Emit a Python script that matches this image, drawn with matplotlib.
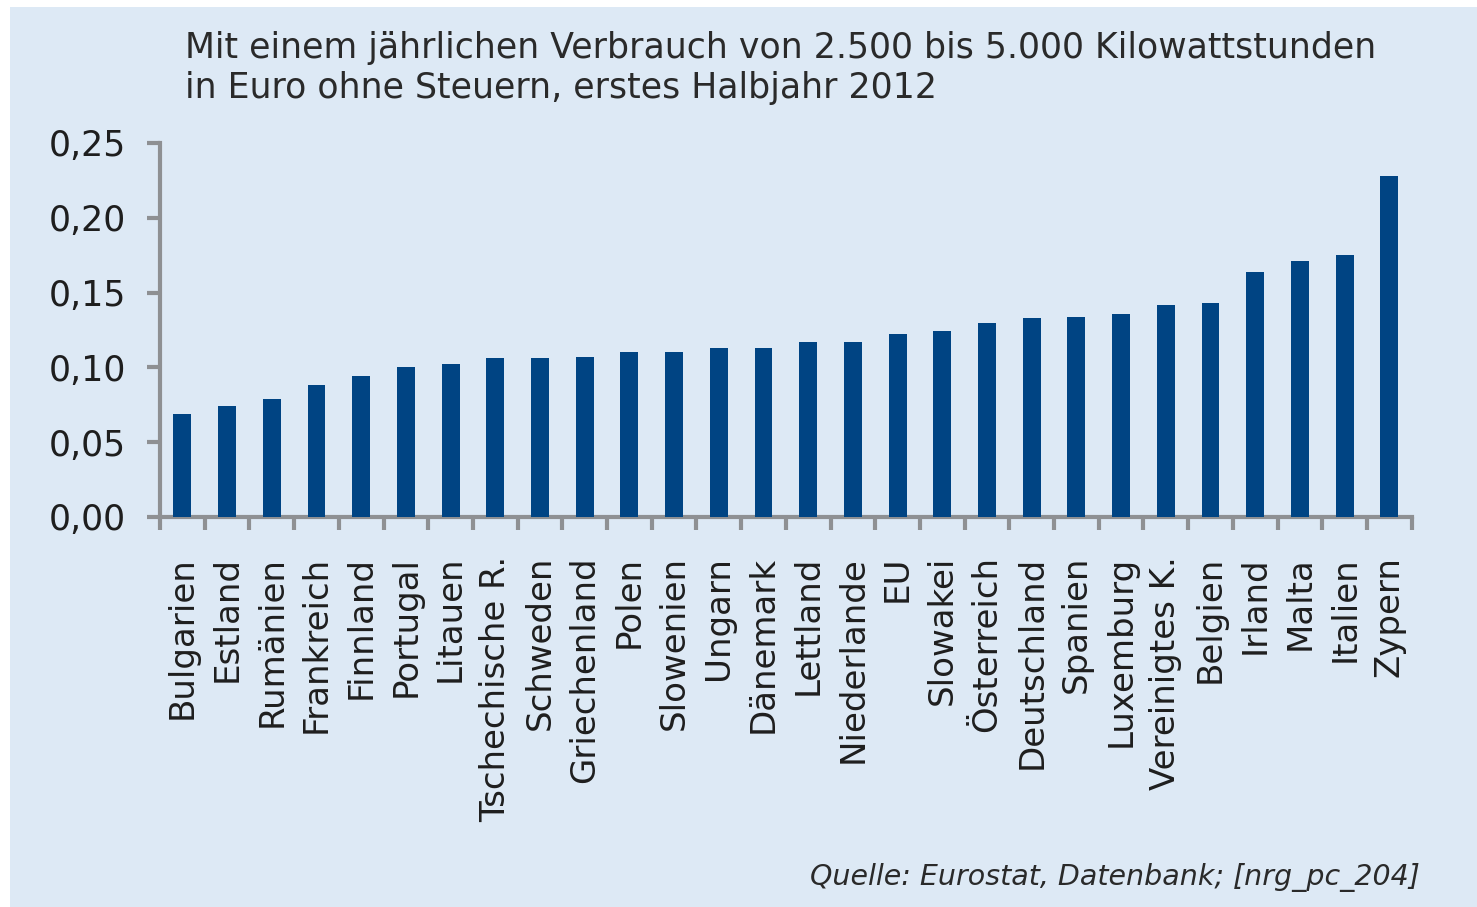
import matplotlib
matplotlib.use("Agg")
import matplotlib.pyplot as plt
from matplotlib.patches import Rectangle
from matplotlib.ticker import FuncFormatter, MultipleLocator

countries = ["Bulgarien", "Estland", "Rumänien", "Frankreich", "Finnland", "Portugal",
             "Litauen", "Tschechische R.", "Schweden", "Griechenland", "Polen", "Slowenien",
             "Ungarn", "Dänemark", "Lettland", "Niederlande", "EU", "Slowakei", "Österreich",
             "Deutschland", "Spanien", "Luxemburg", "Vereinigtes K.", "Belgien", "Irland",
             "Malta", "Italien", "Zypern"]
prices = [0.069, 0.074, 0.079, 0.088, 0.094, 0.100, 0.102, 0.106, 0.106, 0.107,
          0.110, 0.110, 0.113, 0.113, 0.117, 0.117, 0.122, 0.124, 0.130, 0.133,
          0.134, 0.136, 0.142, 0.143, 0.164, 0.171, 0.175, 0.228]

title_lines = ["Mit einem jährlichen Verbrauch von 2.500 bis 5.000 Kilowattstunden",
               "in Euro ohne Steuern, erstes Halbjahr 2012"]
source = "Quelle: Eurostat, Datenbank; [nrg_pc_204]"

BG = "#dde9f5"
BAR = "#004483"
AXC = "#8e9093"
TXT = "#1e1e1e"

W, H = 1477, 907
fig = plt.figure(figsize=(W / 100, H / 100), dpi=100)
fig.patch.set_facecolor("white")
fig.patches.append(Rectangle((10 / W, 0), 1 - 10 / W, 1 - 7 / H, transform=fig.transFigure,
                             facecolor=BG, edgecolor="none", zorder=-10))

ax = fig.add_axes([160 / W, 1 - 517 / H, (1411.7 - 160) / W, (517 - 143) / H])
ax.set_facecolor("none")

x = list(range(len(countries)))
ax.bar(x, prices, width=0.40, color=BAR, zorder=3)

ax.set_xlim(-0.5, len(countries) - 0.5)
ax.set_ylim(0, 0.25)
ax.yaxis.set_major_locator(MultipleLocator(0.05))
ax.yaxis.set_major_formatter(FuncFormatter(lambda v, p: f"{v:.2f}".replace(".", ",")))

for s in ["top", "right"]:
    ax.spines[s].set_visible(False)
for s in ["left", "bottom"]:
    ax.spines[s].set_color(AXC)
    ax.spines[s].set_linewidth(3)
    ax.spines[s].set_capstyle("projecting")

# category boundary ticks on x axis
ax.set_xticks([i - 0.5 for i in range(len(countries) + 1)])
ax.set_xticklabels([])
ax.tick_params(axis="x", which="major", length=9.5, width=3, color=AXC, direction="out")
ax.set_xticks(x, minor=True)
ax.set_xticklabels(countries, minor=True, rotation=90, ha="center", va="top",
                   fontsize=24.5, color=TXT)
ax.tick_params(axis="x", which="minor", length=0, pad=28)

ax.tick_params(axis="y", length=9.5, width=3, color=AXC, direction="out",
               labelsize=25, labelcolor=TXT, pad=15)

fig.text(185 / W, 1 - 58 / H, title_lines[0], fontsize=25, color="#2a2a2a",
         ha="left", va="baseline")
fig.text(185 / W, 1 - 98 / H, title_lines[1], fontsize=25, color="#2a2a2a",
         ha="left", va="baseline")
fig.text(1420 / W, 1 - 885 / H, source, fontsize=20.5, style="italic", color="#2a2a2a",
         ha="right", va="baseline")

fig.savefig("out.png", dpi=100, facecolor=fig.get_facecolor())
